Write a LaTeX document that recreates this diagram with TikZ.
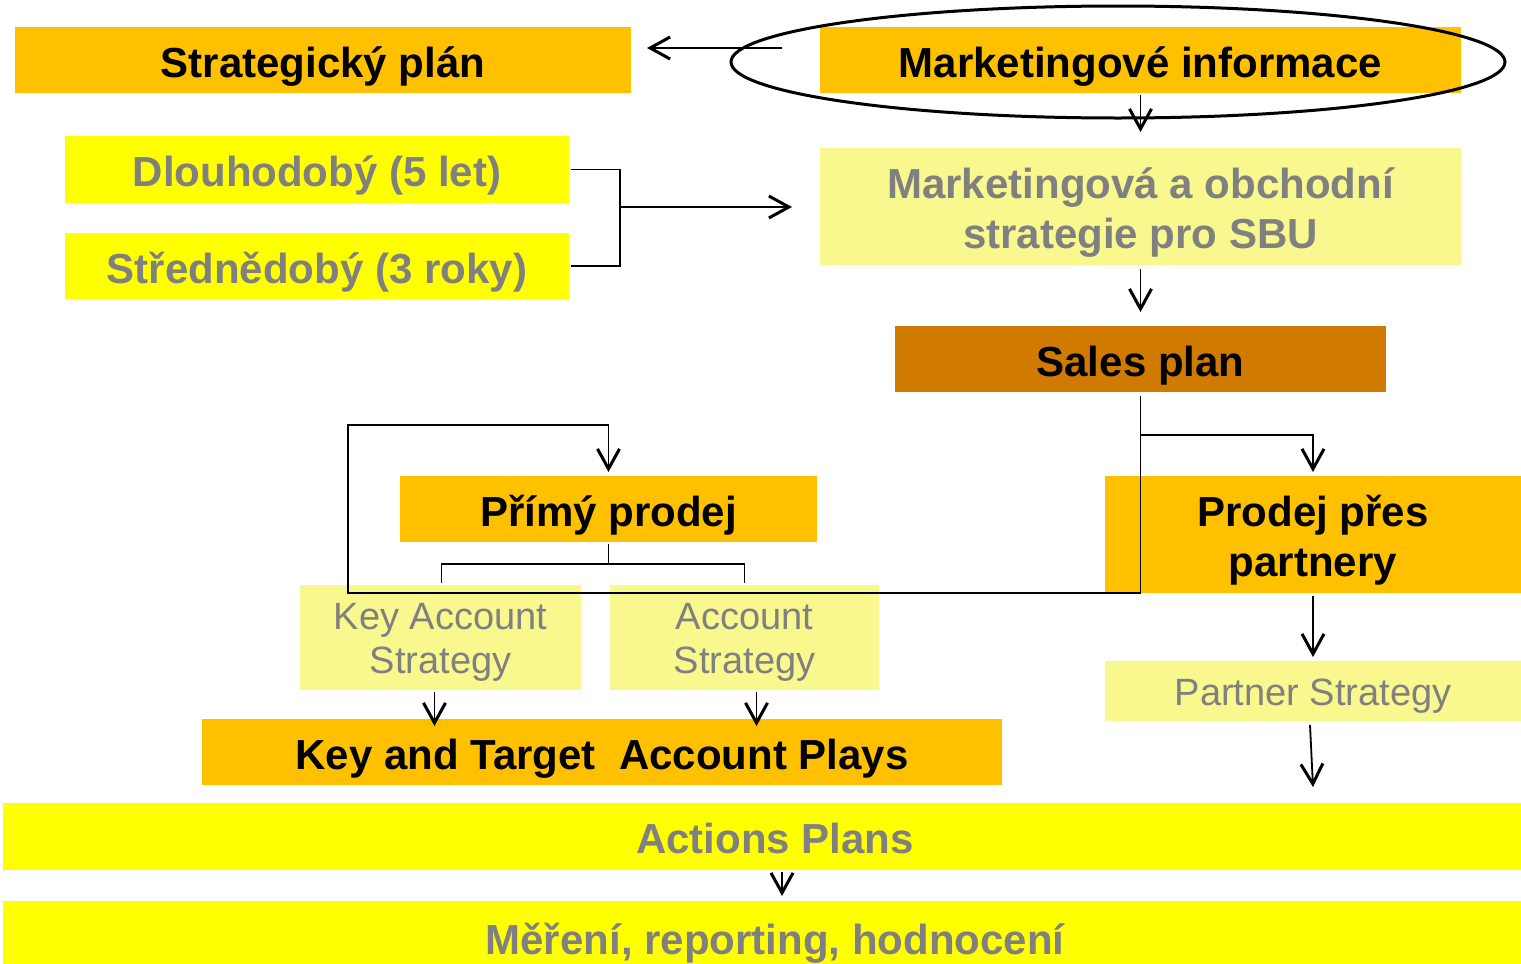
\documentclass[tikz,border=0pt]{standalone}
\usepackage{fontspec}
\setmainfont{Liberation Sans}
\usetikzlibrary{arrows.meta}
\definecolor{orng}{HTML}{FFC000}
\definecolor{yel}{HTML}{FFFF00}
\definecolor{lyel}{HTML}{F8F88F}
\definecolor{dorng}{HTML}{D07A00}
\definecolor{gtxt}{HTML}{808080}
% struts fixing the baseline position inside the boxes
\newcommand{\SOneB}{\rule[-5pt]{0pt}{27pt}}
\newcommand{\TTopB}{\rule{0pt}{21.5pt}}
\newcommand{\TBotB}{\rule[-5pt]{0pt}{5pt}}
\newcommand{\SOneR}{\rule[-4.7pt]{0pt}{23.7pt}}
\newcommand{\TTopR}{\rule{0pt}{18.5pt}}
\newcommand{\TBotR}{\rule[-4.7pt]{0pt}{4.7pt}}
\tikzset{
 box/.style={inner sep=0pt, outer sep=0pt, align=center},
 bigb/.style={font=\fontsize{21}{25}\selectfont\bfseries},
 smallr/.style={font=\fontsize{19}{22}\selectfont},
 conn/.style={line width=0.9pt},
 arr/.style={conn, -{Straight Barb[length=10pt,width=11pt,line width=1.5pt]}}
}
\begin{document}
\begin{tikzpicture}[x=0.5pt,y=-0.5pt]
\clip (0,0) rectangle (1521,964);
\fill[white] (0,0) rectangle (1521,964);
% boxes
\node[box,bigb,fill=orng,minimum width=308pt,minimum height=33pt] (strat) at (323,60) {\SOneB Strategický plán};
\node[box,bigb,fill=orng,minimum width=320.5pt,minimum height=33pt] (minfo) at (1140.5,60) {\SOneB Marketingové informace};
\node[box,bigb,text=gtxt,fill=yel,minimum width=252pt,minimum height=33.5pt] (dlouho) at (317,169.5) {\SOneB Dlouhodobý (5 let)};
\node[box,bigb,text=gtxt,fill=yel,minimum width=252pt,minimum height=33pt] (stredne) at (317,266) {\SOneB Střednědobý (3 roky)};
\node[box,bigb,text=gtxt,fill=lyel,minimum width=320.5pt,minimum height=58.5pt] (mstrat) at (1140.5,206.5) {\TTopB Marketingová a obchodní\\strategie pro SBU\TBotB};
\node[box,bigb,fill=dorng,minimum width=245.5pt,minimum height=33pt] (sales) at (1140.5,359) {\SOneB Sales plan};
\node[box,bigb,fill=orng,minimum width=208.5pt,minimum height=33pt] (primy) at (608.5,509) {\SOneB Přímý prodej};
\node[box,bigb,fill=orng,minimum width=208pt,minimum height=58.5pt] (partn) at (1313,534.5) {\TTopB Prodej přes\\partnery\TBotB};
\node[box,smallr,text=gtxt,fill=lyel,minimum width=140.5pt,minimum height=52.5pt] (kas) at (440.5,637.5) {\TTopR Key Account\\Strategy\TBotR};
\node[box,smallr,text=gtxt,fill=lyel,minimum width=134.5pt,minimum height=52.5pt] (as) at (744.5,637.5) {\TTopR Account\\Strategy\TBotR};
\node[box,smallr,text=gtxt,fill=lyel,minimum width=208pt,minimum height=30pt] (pstrat) at (1313,691) {\SOneR Partner Strategy};
\node[box,bigb,fill=orng,minimum width=400pt,minimum height=33pt] (plays) at (602,752) {\SOneB Key and Target\ \ Account Plays};
\node[box,bigb,text=gtxt,fill=yel,minimum width=772pt,minimum height=33.5pt] (actions) at (775,836.5) {\SOneB Actions Plans};
\node[box,bigb,text=gtxt,fill=yel,minimum width=772pt,minimum height=36pt] (mereni) at (775,937) {\SOneB Měření, reporting, hodnocení};
% ellipse
\draw[line width=1.5pt] (1118,62) ellipse [x radius=193.5pt, y radius=28pt];
% connectors
\coordinate (el) at (782,48);
\coordinate (sp) at (647,48);
\draw[arr] (el) -- (sp);
\draw[arr] ([yshift=-1pt]minfo.south) -- ([yshift=8pt]mstrat.north);
\coordinate (brm) at (620,207);
\draw[conn] ([xshift=1pt]dlouho.east) -| (brm) |- ([xshift=1pt]stredne.east);
\draw[arr] (brm) -- ([xshift=-14pt]mstrat.west |- brm);
\draw[arr] ([yshift=-2pt]mstrat.south) -- ([yshift=7pt]sales.north);
\coordinate (loopA) at (348,593);
\coordinate (loopB) at (348,425);
\draw[arr] ([yshift=-2pt]sales.south) |- (loopA) |- (loopB) -| ([yshift=2pt]primy.north);
\coordinate (brs) at (1140.5,435);
\draw[arr] (brs) -| ([yshift=2pt]partn.north);
\coordinate (brp) at (608.5,564);
\draw[conn] ([yshift=-1pt]primy.south) -- (brp);
\draw[conn] ([xshift=0.5pt,yshift=1pt]kas.north) |- (brp) -| ([yshift=1pt]as.north);
\draw[arr] ([xshift=-3pt,yshift=-1pt]kas.south) -- ([xshift=-3pt,yshift=-3.5pt]kas.south |- plays.north);
\draw[arr] ([xshift=6pt,yshift=-1pt]as.south) -- ([xshift=6pt,yshift=-3.5pt]as.south |- plays.north);
\draw[arr] ([yshift=-1.5pt]partn.south) -- ([yshift=2pt]pstrat.north);
\coordinate (pend) at (1313,787);
\draw[arr] ([xshift=-1.5pt,yshift=-2pt]pstrat.south) -- (pend);
\coordinate (mend) at (782,896);
\draw[arr] (782,872) -- (mend);
\end{tikzpicture}
\end{document}
